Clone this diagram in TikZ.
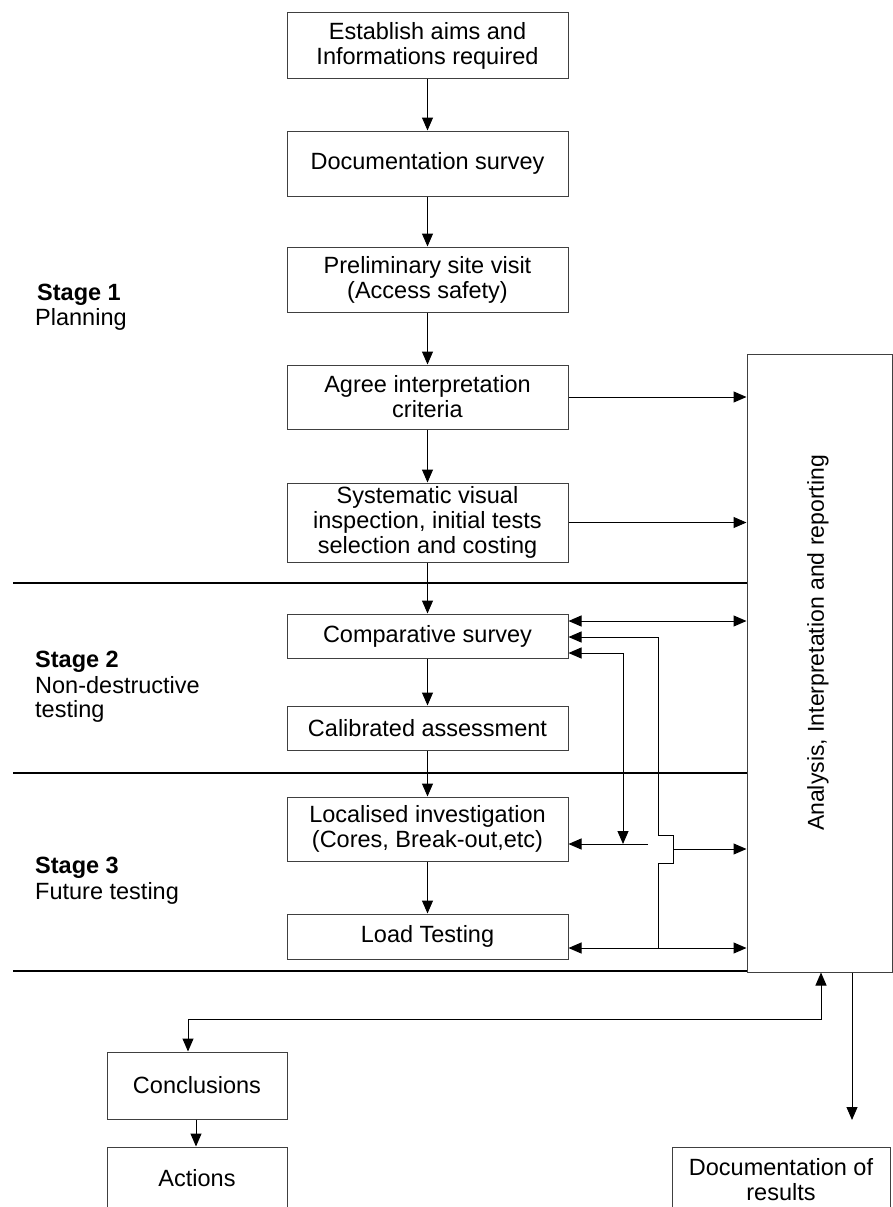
\documentclass[tikz,border=0pt]{standalone}
\usepackage{fontspec}
\setmainfont{Liberation Sans}
\usetikzlibrary{arrows.meta}
\begin{document}
\begin{tikzpicture}[x=1pt,y=-1pt,
  box/.style={draw=black!75, line width=1pt, minimum width=281pt, inner sep=0pt, align=center, font=\fontsize{23.5}{25}\selectfont},
  arr/.style={line width=1pt, -{Triangle[length=13pt,width=11pt]}},
  darr/.style={line width=1pt, {Triangle[length=13pt,width=11pt]}-{Triangle[length=13pt,width=11pt]}},
  stageline/.style={line width=2pt},
  lbl/.style={anchor=base west, inner sep=0pt, font=\fontsize{23.5}{25}\selectfont},
  lblb/.style={lbl, font=\fontsize{23.5}{25}\selectfont\bfseries}]
\useasboundingbox (0,0) rectangle (893,1207);
\clip (0,0) rectangle (893,1207);

% main column
\node[box, minimum height=65pt] (b1) at (427.5,45.5) {Establish aims and\\Informations required};
\node[box, minimum height=65pt] (b2) at (427.5,163.5) {Documentation survey};
\node[box, minimum height=65pt] (b3) at (427.5,279.5) {Preliminary site visit\\(Access safety)};
\node[box, minimum height=64pt] (b4) at (427.5,397) {Agree interpretation\\criteria};
\node[box, minimum height=79pt] (b5) at (427.5,522.5) {Systematic visual\\inspection, initial tests\\selection and costing};
\node[box, minimum height=44pt] (b6) at (427.5,636) {Comparative survey};
\node[box, minimum height=44pt] (b7) at (427.5,728) {Calibrated assessment};
\node[box, minimum height=64pt] (b8) at (427.5,829) {Localised investigation\\(Cores, Break-out,etc)};
\node[box, minimum height=45pt] (b9) at (427.5,936.5) {Load Testing};

% analysis box
\node[box, minimum width=145pt, minimum height=618pt] (an) at (819.5,663) {};
\node[rotate=90, inner sep=0pt, font=\fontsize{23}{25}\selectfont] (antext) at (818,643) {Analysis, Interpretation and reporting};

% bottom boxes
\node[box, minimum width=180pt, minimum height=67pt] (conc) at (197,1085.5) {Conclusions};
\node[box, minimum width=180pt, minimum height=62pt] (act) at (197,1178) {Actions};
\node[box, minimum width=218pt, minimum height=66pt] (doc) at (781,1180) {Documentation of\\results};

% stage separators
\draw[stageline] (13,583) -- (747,583);
\draw[stageline] (13,773) -- (747,773);
\draw[stageline] (13,971) -- (747,971);

% stage labels
\node[lblb] (s1a) at (37,300) {Stage 1};
\node[lbl] (s1b) at (35,325) {Planning};
\node[lblb] (s2a) at (35,667) {Stage 2};
\node[lbl] (s2b) at (35,693) {Non-destructive};
\node[lbl] (s2c) at (35,717) {testing};
\node[lblb] (s3a) at (35,873) {Stage 3};
\node[lbl] (s3b) at (35,899) {Future testing};

% helper coordinates
\coordinate (y621) at (0,621);
\coordinate (y637) at (0,637);
\coordinate (y653) at (0,653);
\coordinate (y844) at (0,844);
\coordinate (y849) at (0,849);
\coordinate (y948) at (0,948);
\coordinate (x188) at (188,0);
\coordinate (x196) at (196,0);
\coordinate (x821) at (821,0);
\coordinate (x852) at (852,0);
\coordinate (pA1) at (658,948);
\coordinate (pA2) at (658,863);
\coordinate (pA3) at (673,863);
\coordinate (pA4) at (673,835);
\coordinate (pA5) at (658,835);
\coordinate (pA6) at (658,637);
\coordinate (pB1) at (623,653);
\coordinate (pB2) at (623,844);
\coordinate (pC) at (648,844);
\coordinate (pD) at (673,849);
\coordinate (pE1) at (821,1019);
\coordinate (pE2) at (188,1019);
\coordinate (pF) at (852,1120);

% vertical flow
\draw[arr] (b1) -- (b2);
\draw[arr] (b2) -- (b3);
\draw[arr] (b3) -- (b4);
\draw[arr] (b4) -- (b5);
\draw[arr] (b5) -- (b6);
\draw[arr] (b6) -- (b7);
\draw[arr] (b7) -- (b8);
\draw[arr] (b8) -- (b9);

% to analysis
\draw[arr] (b4.east) -- (b4.east -| an.west);
\draw[arr] (b5.east) -- (b5.east -| an.west);
\draw[darr] (b6.east |- y621) -- (an.west |- y621);
\draw[arr] (pA1) -- (pA2) -- (pA3) -- (pA4) -- (pA5) -- (pA6) -- (b6.east |- y637);
\draw[darr] (b6.east |- y653) -- (pB1) -- (pB2);
\draw[arr] (pC) -- (b8.east |- y844);
\draw[arr] (pD) -- (an.west |- y849);
\draw[darr] (b9.east |- y948) -- (an.west |- y948);

% bottom
\draw[darr] (an.south -| x821) -- (pE1) -- (pE2) -- (conc.north -| x188);
\draw[arr] (an.south -| x852) -- (pF);
\draw[arr] (conc.south -| x196) -- (act.north -| x196);
\end{tikzpicture}
\end{document}
